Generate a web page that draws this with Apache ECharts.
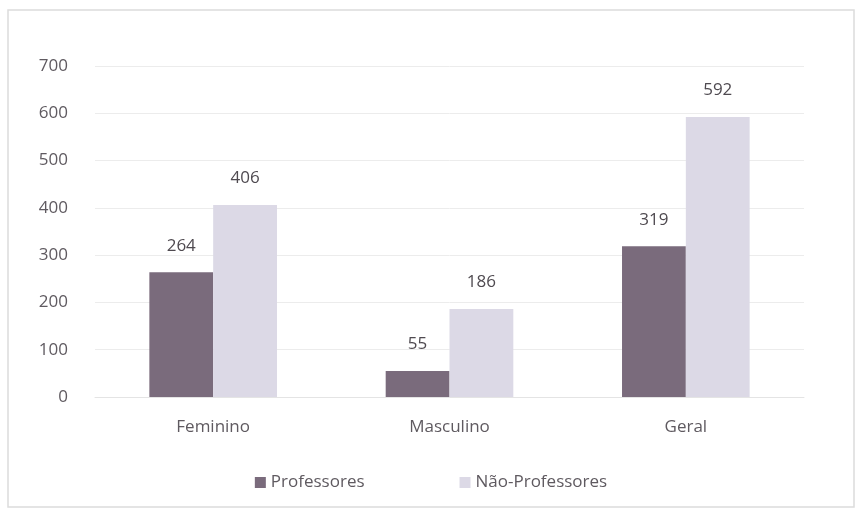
<!DOCTYPE html>
<html>
	<head>
		<meta charset="UTF-8">
		<title>Professores</title>
		<script src="https://cdn.jsdelivr.net/npm/echarts@6/dist/echarts.min.js"></script>
		<style>
			body { margin: 0; background: #fff; }
			#main { width: 862px; height: 518px; }
		</style>
	</head>
	<body>
		<div id="main"></div>
		<script>
			var categories = ['Feminino', 'Masculino', 'Geral'];
			var professores = [264, 55, 319];
			var naoProfessores = [406, 186, 592];
			var yTicks = [0, 100, 200, 300, 400, 500, 600, 700];

			var chart = echarts.init(document.getElementById('main'), null, { renderer: 'canvas' });
			var txt = '#5f5a60';
			chart.setOption({
				backgroundColor: '#fff',
				textStyle: { fontFamily: 'Open Sans' },
				graphic: [{
					type: 'rect',
					shape: { x: 8, y: 10, width: 846, height: 497 },
					style: { fill: 'none', stroke: '#dcdcdc', lineWidth: 1.5 }
				}],
				grid: { left: 95, right: 58, top: 66, bottom: 121 },
				legend: {
					bottom: 22,
					left: 'center',
					itemGap: 95,
					itemWidth: 11,
					itemHeight: 11,
					icon: 'rect',
					textStyle: { color: txt, fontSize: 17, fontFamily: 'Open Sans' },
					data: ['Professores', 'Não-Professores']
				},
				xAxis: {
					type: 'category',
					data: categories,
					axisLine: { lineStyle: { color: '#e4e4e4' } },
					axisTick: { show: false },
					axisLabel: { color: txt, fontSize: 17, margin: 22 }
				},
				yAxis: {
					type: 'value',
					min: yTicks[0],
					max: yTicks[yTicks.length - 1],
					interval: 100,
					axisLine: { show: false },
					axisTick: { show: false },
					axisLabel: { color: txt, fontSize: 17, margin: 27 },
					splitLine: { lineStyle: { color: '#ececec' } }
				},
				series: [{
					name: 'Professores',
					type: 'bar',
					data: professores,
					barGap: '0%',
					barCategoryGap: '46%',
					itemStyle: { color: '#7a6b7c' },
					label: { show: true, position: 'top', distance: 18, color: '#4f4a50', fontSize: 17 }
				}, {
					name: 'Não-Professores',
					type: 'bar',
					data: naoProfessores,
					itemStyle: { color: '#dcd9e6' },
					label: { show: true, position: 'top', distance: 18, color: '#4f4a50', fontSize: 17 }
				}]
			});
		</script>
	</body>
</html>
